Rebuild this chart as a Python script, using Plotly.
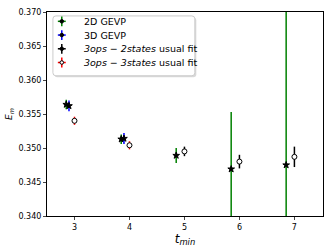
import plotly.graph_objects as go

# Data
x_2d = [2.85, 3.85, 4.85, 5.85, 6.85]
y_2d = [0.3564, 0.3513, 0.3489, 0.3469, 0.3475]
e_2d = [0.0007, 0.0007, 0.0011, 0.0084, 0.0300]

x_3d = [2.9, 3.9]
y_3d = [0.3562, 0.3514]
e_3d = [0.0008, 0.0008]

x_2s = [5, 6, 7]
y_2s = [0.3495, 0.3480, 0.3487]
e_2s = [0.0007, 0.0010, 0.0015]

x_3s = [3, 4]
y_3s = [0.3540, 0.3504]
e_3s = [0.0006, 0.0006]

x_ticks = [3, 4, 5, 6, 7]
y_ticks = [0.340, 0.345, 0.350, 0.355, 0.360, 0.365, 0.370]

names = ["2D GEVP", "3D GEVP",
         "<i>3ops</i> − <i>2states</i> usual fit",
         "<i>3ops</i> − <i>3states</i> usual fit"]
colors = ["green", "blue", "black", "red"]
centers = ["black", "black", "black", "white"]

W, H = 332, 249
L, R, T, B = 43, 9, 8, 33
PW, PH = W - L - R, H - T - B

fig = go.Figure()

def add(x, y, e, ecol, symbol, mcol, size):
    fig.add_trace(go.Scatter(
        x=x, y=y, mode="markers", showlegend=False,
        marker=dict(symbol=symbol, color=mcol, size=size,
                    line=dict(color="black", width=1)),
        error_y=dict(type="data", array=e, visible=True, color=ecol,
                     thickness=1.5, width=0),
    ))

add(x_2d, y_2d, e_2d, "green", "star", "black", 5)
add(x_3d, y_3d, e_3d, "blue", "star", "black", 5)
add(x_2s, y_2s, e_2s, "black", "circle", "white", 5)
add(x_3s, y_3s, e_3s, "red", "circle", "white", 5)

# manual legend (pixel -> paper helpers)
def px(X):
    return (X - L) / PW

def py(Y):
    return (T + PH - Y) / PH

shapes = []
x0, x1, y0, y1, r = 49, 193, 12, 73, 3
def rpath(a0, a1, b0, b1):
    return (f"M {px(a0+r)},{py(b0)} L {px(a1-r)},{py(b0)} "
            f"Q {px(a1)},{py(b0)} {px(a1)},{py(b0+r)} "
            f"L {px(a1)},{py(b1-r)} Q {px(a1)},{py(b1)} {px(a1-r)},{py(b1)} "
            f"L {px(a0+r)},{py(b1)} Q {px(a0)},{py(b1)} {px(a0)},{py(b1-r)} "
            f"L {px(a0)},{py(b0+r)} Q {px(a0)},{py(b0)} {px(a0+r)},{py(b0)} Z")
shapes.append(dict(type="path", xref="paper", yref="paper",
                   path=rpath(x0 + 1.5, x1 + 1.5, y0 + 1.5, y1 + 1.5),
                   fillcolor="rgba(0,0,0,0.15)", line=dict(width=0)))
shapes.append(dict(type="path", xref="paper", yref="paper",
                   path=rpath(x0, x1, y0, y1),
                   fillcolor="white", line=dict(color="#cccccc", width=1)))

annotations = []
for i, (n, c, cc) in enumerate(zip(names, colors, centers)):
    Y = 17.5 + 14 * i
    Xc = 58
    shapes.append(dict(type="line", xref="paper", yref="paper",
                       x0=px(Xc - 4), x1=px(Xc + 4), y0=py(Y), y1=py(Y),
                       line=dict(color=c, width=1.5)))
    shapes.append(dict(type="line", xref="paper", yref="paper",
                       x0=px(Xc), x1=px(Xc), y0=py(Y - 5), y1=py(Y + 5),
                       line=dict(color=c, width=1.5)))
    shapes.append(dict(type="circle", xref="paper", yref="paper",
                       x0=px(Xc - 1.8), x1=px(Xc + 1.8),
                       y0=py(Y - 1.8), y1=py(Y + 1.8),
                       fillcolor=cc, line=dict(color="black", width=1)))
    annotations.append(dict(x=px(78), y=py(Y), xref="paper", yref="paper",
                            text=n, showarrow=False, xanchor="left",
                            yanchor="middle", font=dict(size=9.5)))

fig.update_layout(
    width=W, height=H,
    margin=dict(l=L, r=R, t=T, b=B),
    plot_bgcolor="white", paper_bgcolor="white",
    font=dict(family="DejaVu Sans", size=8, color="black"),
    showlegend=False,
    shapes=shapes, annotations=annotations,
    xaxis=dict(range=[2.5, 7.52], tickvals=x_ticks, ticks="outside",
               ticklen=3, showgrid=False, zeroline=False,
               showline=True, linecolor="black", linewidth=1, mirror=True,
               title=dict(text="<i>t</i><sub><i>min</i></sub>",
                          font=dict(size=12), standoff=0)),
    yaxis=dict(range=[0.340, 0.370], tickvals=y_ticks, tickformat=".3f",
               ticks="outside", ticklen=3, showgrid=False, zeroline=False,
               showline=True, linecolor="black", linewidth=1, mirror=True,
               title=dict(text="<i>E</i><sub><i>m</i></sub>",
                          font=dict(size=9), standoff=4)),
)

fig.write_html("out.html", config={"displayModeBar": False},
               post_script="document.body.style.margin='0';")
